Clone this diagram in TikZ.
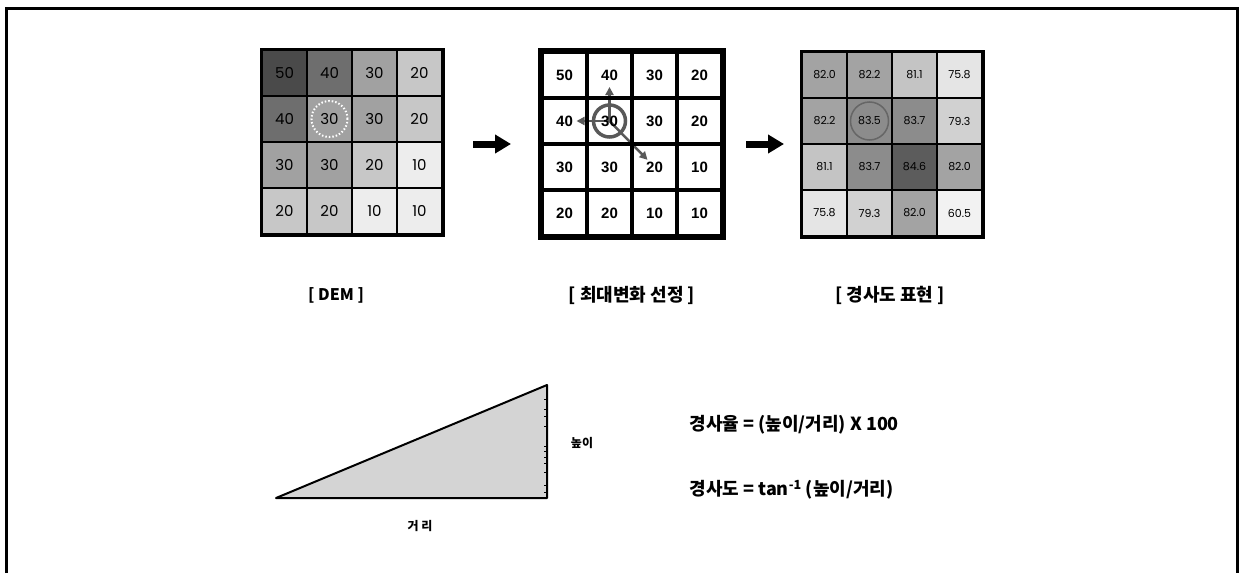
\documentclass[tikz,border=0pt]{standalone}
\usepackage{fontspec}
\setmainfont{Noto Sans CJK KR}
\newfontfamily\gridfont{Poppins}
\newfontfamily\heavyfont{Liberation Sans}
\usetikzlibrary{arrows.meta,calc,positioning}
\pgfdeclarelayer{background}
\pgfsetlayers{background,main}
\tikzset{
  dem cell/.style={draw,line width=2pt,minimum width=45pt,minimum height=46pt,inner sep=0pt,
    font=\fontsize{15}{15}\selectfont\gridfont},
  sel cell/.style={draw,line width=3.5pt,minimum width=45pt,minimum height=46pt,inner sep=0pt,
    font=\fontsize{15}{15}\selectfont\heavyfont\bfseries},
  slope cell/.style={draw,line width=2pt,minimum width=45pt,minimum height=46pt,inner sep=0pt,
    font=\fontsize{11}{11}\selectfont\gridfont},
  step arrow/.style={line width=7pt,-{Triangle[length=16pt,width=18pt]}},
  probe/.style={draw=black!65,line width=2.5pt,-{Triangle[length=8pt,width=8pt]}},
  caption/.style={font=\fontsize{18}{18}\selectfont\bfseries},
  formula/.style={anchor=west,font=\fontsize{18}{18}\selectfont\bfseries},
  side label/.style={font=\fontsize{12}{12}\selectfont\bfseries}
}

\begin{document}
\begin{tikzpicture}[x=1pt,y=-1pt,line cap=butt,line join=miter]
  \useasboundingbox (0,0) rectangle (1239,573);
  \draw[line width=3pt] (6,573) -- (6,8) -- (1237.5,8) -- (1237.5,573);

  % DEM grid
  \foreach \v/\g [count=\i from 0] in {50/71,40/57,30/37,20/22,
      40/57,30/37,30/37,20/22, 30/37,30/37,20/22,10/7, 20/22,20/22,10/7,10/7} {
    \pgfmathtruncatemacro{\c}{mod(\i,4)}
    \pgfmathtruncatemacro{\r}{\i/4}
    \node[dem cell,fill=black!\g] (dem\i) at (284.5+45*\c,73+46*\r) {\v};
  }
  \draw[line width=3pt] (dem0.north west) rectangle (dem15.south east);
  \draw[white,line width=2pt,dash pattern=on 1.5pt off 2pt] (dem5) circle[radius=18pt];

  % selection grid
  \foreach \v [count=\i from 0] in {50,40,30,20, 40,30,30,20, 30,30,20,10, 20,20,10,10} {
    \pgfmathtruncatemacro{\c}{mod(\i,4)}
    \pgfmathtruncatemacro{\r}{\i/4}
    \node[sel cell] (sel\i) at (564.5+45*\c,75+46*\r) {\v};
  }
  \draw[line width=4pt] (sel0.north west) rectangle (sel15.south east);
  \begin{pgfonlayer}{background}
    \draw[black!65,line width=3.5pt] (sel5) circle[radius=16pt];
    \draw[probe,shorten >=12pt] (sel5.center) -- (sel1.center);
    \draw[probe,shorten >=12pt] (sel5.center) -- (sel4.center);
    \draw[probe,shorten >=10pt] (sel5.center) -- (sel10.center);
  \end{pgfonlayer}

  % slope grid
  \foreach \v/\g [count=\i from 0] in {82.0/36,82.2/36,81.1/23,75.8/10,
      82.2/36,83.5/45,83.7/45,79.3/18, 81.1/23,83.7/45,84.6/64,82.0/36,
      75.8/10,79.3/18,82.0/36,60.5/5} {
    \pgfmathtruncatemacro{\c}{mod(\i,4)}
    \pgfmathtruncatemacro{\r}{\i/4}
    \node[slope cell,fill=black!\g] (slope\i) at (824.5+45*\c,75+46*\r) {\v};
  }
  \draw[line width=3pt] (slope0.north west) rectangle (slope15.south east);
  \draw[black!60,line width=1.5pt] (slope5) circle[radius=19pt];

  \coordinate (s1) at (473,144);
  \coordinate (e1) at (511,144);
  \coordinate (s2) at (746,144);
  \coordinate (e2) at (784,144);
  \draw[step arrow] (s1) -- (e1);
  \draw[step arrow] (s2) -- (e2);

  \node[caption,font=\fontsize{16}{16}\selectfont\bfseries] (demcap) at (336,295) {[ DEM ]};
  \node[caption] (selcap)   at (632,295) {[ 최대변화 선정 ]};
  \node[caption] (slopecap) at (890,295) {[ 경사도 표현 ]};

  % slope triangle
  \coordinate (t1) at (276,498);
  \coordinate (t2) at (547,498);
  \coordinate (t3) at (547,385);
  \draw[fill=black!17,line width=2pt,line join=round] (t1) -- (t2) -- (t3) -- cycle;
  \foreach \t in {399,409,416,426,446,451,457,463,472,485,492}
    \draw[line width=0.8pt] (547,\t) -- ++(-3,0);
  \node[side label] (height) at (582,443) {높이};
  \node[side label] (dist)   at (420,526) {거 리};

  \node[formula] (rate)  at (686,425) {경사율 = (높이/거리) X 100};
  \node[formula] (angle) at (686,490) {경사도 = tan\textsuperscript{-1} (높이/거리)};
\end{tikzpicture}
\end{document}
